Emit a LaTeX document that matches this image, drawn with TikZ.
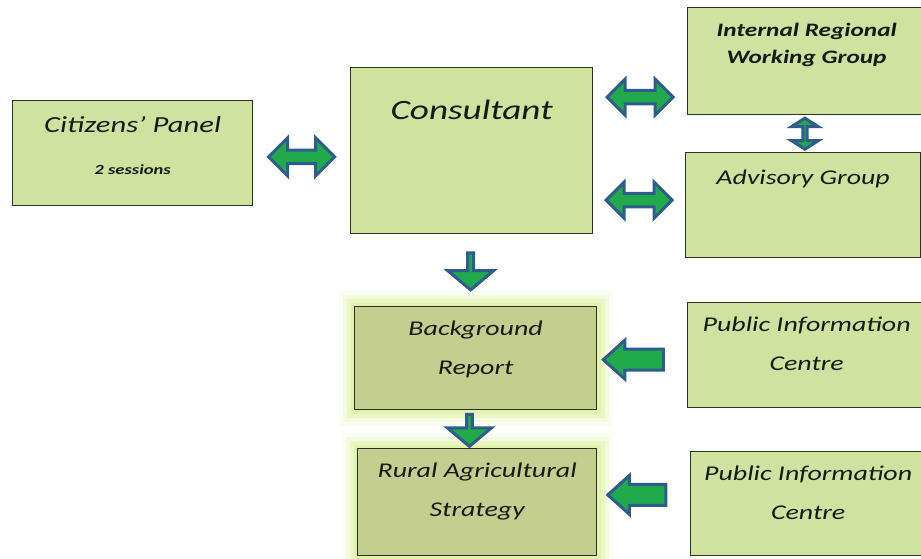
\documentclass[tikz,border=0pt]{standalone}
\usepackage{fontspec}
\setmainfont{Carlito}[FakeStretch=1.33]
\usetikzlibrary{shapes.arrows, calc}
\definecolor{marble}{RGB}{206,227,160}
\definecolor{olivebox}{RGB}{196,206,142}
\definecolor{glow}{RGB}{222,240,160}
\definecolor{boxline}{RGB}{45,50,40}
\definecolor{arrowfill}{RGB}{32,170,75}
\definecolor{arrowline}{RGB}{46,92,140}
\definecolor{ink}{RGB}{25,25,20}
\tikzset{
  panel/.style = {draw=boxline, line width=1.3pt, fill=marble, anchor=north west,
    inner sep=0pt, align=center, text=ink, font=\itshape\fontsize{21}{39}\selectfont},
  outcome/.style = {panel, fill=olivebox,
    preaction={draw=glow, line width=32pt, opacity=.15},
    preaction={draw=glow, line width=24pt, opacity=.25},
    preaction={draw=glow, line width=16pt, opacity=.4},
    preaction={draw=glow, line width=8pt, opacity=.6}},
  twoway/.style = {double arrow, draw=arrowline, fill=arrowfill, line width=3pt,
    inner xsep=0pt, double arrow head indent=0pt},
  oneway/.style = {single arrow, draw=arrowline, fill=arrowfill, line width=3pt,
    inner xsep=0pt, single arrow head indent=0pt}
}

\begin{document}
\begin{tikzpicture}[x=1pt, y=-1pt]
\useasboundingbox (0,0) rectangle (921,559);

% boxes
\node [panel, minimum width=240, text height=74, text depth=31,
  font=\itshape\fontsize{23}{42}\selectfont] (cit) at (12,100)
  {Citizens' Panel\\{\bfseries\fontsize{14}{16}\selectfont 2 sessions}};
\node [panel, minimum width=242, text height=52, text depth=114,
  font=\itshape\fontsize{28}{34}\selectfont] (con) at (350,67) {Consultant};
\node [panel, minimum width=238, text height=56, text depth=51,
  font=\itshape\bfseries\fontsize{19}{27}\selectfont] (irwg) at (687,7)
  {Internal Regional\\Working Group};
\node [panel, minimum width=235, text height=32, text depth=73] (adv) at (685,152)
  {Advisory Group};
\node [outcome, minimum width=242, text height=68, text depth=35] (rep) at (354,306)
  {Background\\Report};
\node [outcome, minimum width=239, text height=68, text depth=39] (ras) at (357,448)
  {Rural Agricultural\\Strategy};
\node [panel, minimum width=238, text height=68, text depth=37] (pic1) at (687,302)
  {Public Information\\Centre};
\node [panel, minimum width=235, text height=68, text depth=36] (pic2) at (690,451)
  {Public Information\\Centre};

% arrows
\node [twoway, minimum height=66, minimum width=38, inner ysep=5pt,
  double arrow head extend=12pt] at ($(cit.east)!.5!(con.west)+(0,5)$) {};
\node [twoway, minimum height=66, minimum width=36, inner ysep=5pt,
  double arrow head extend=11pt] at ($(con.north east)!.5!(irwg.south west)+(0,6)$) {};
\node [twoway, minimum height=66, minimum width=36, inner ysep=5pt,
  double arrow head extend=11pt] at ($(con.south east)!.5!(adv.north west)+(0,7)$) {};
\node [twoway, shape border rotate=90, minimum height=31, minimum width=27,
  inner ysep=5pt, double arrow head extend=8pt, double arrow tip angle=115]
  at ($(irwg.south)!.5!(adv.north)$) {};
\node [oneway, shape border rotate=270, minimum height=37, minimum width=46,
  inner ysep=12pt, single arrow head extend=10pt, single arrow tip angle=100]
  at ($(con.south)!.5!(rep.north)+(-3,0)$) {};
\node [oneway, shape border rotate=270, minimum height=32, minimum width=44,
  inner ysep=11pt, single arrow head extend=10pt, single arrow tip angle=100]
  at ($(rep.south)!.5!(ras.north)+(-7,0)$) {};
\node [oneway, shape border rotate=180, minimum height=60, minimum width=37,
  inner ysep=9pt, single arrow head extend=9pt, single arrow tip angle=84]
  at ($(rep.east)!.5!(pic1.west)+(-3,3)$) {};
\node [oneway, shape border rotate=180, minimum height=58, minimum width=38,
  inner ysep=9pt, single arrow head extend=9pt, single arrow tip angle=84]
  at ($(ras.east)!.5!(pic2.west)+(-1,-8)$) {};
\end{tikzpicture}
\end{document}
